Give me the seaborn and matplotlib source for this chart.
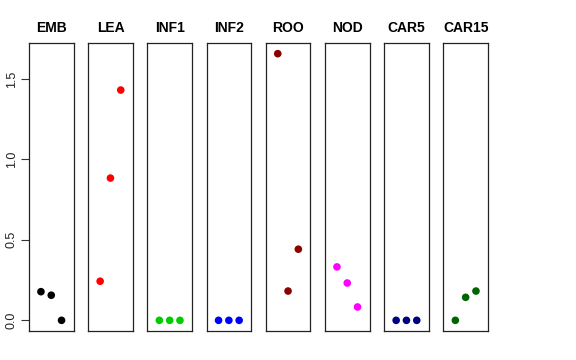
import matplotlib
matplotlib.use("Agg")
import matplotlib.pyplot as plt
import seaborn as sns
import pandas as pd

tissues = ["EMB", "LEA", "INF1", "INF2", "ROO", "NOD", "CAR5", "CAR15"]
values = {
    "EMB": [0.178, 0.156, 0.0],
    "LEA": [0.243, 0.884, 1.431],
    "INF1": [0.0, 0.0, 0.0],
    "INF2": [0.0, 0.0, 0.0],
    "ROO": [1.657, 0.182, 0.442],
    "NOD": [0.332, 0.232, 0.083],
    "CAR5": [0.0, 0.0, 0.0],
    "CAR15": [0.0, 0.143, 0.182],
}
replicates = [1, 2, 3]
colors = ["#000000", "#FF0000", "#00CD00", "#0000FF", "#8B0000", "#FF00FF", "#000080", "#006400"]
yticks = [0.0, 0.5, 1.0, 1.5]
yticklabels = ["0.0", "0.5", "1.0", "1.5"]

sns.set_style("white")
plt.rcParams["font.family"] = ["Liberation Sans", "DejaVu Sans"]
plt.rcParams["text.color"] = "black"
plt.rcParams["axes.labelcolor"] = "black"

fig = plt.figure(figsize=(5.76, 3.6), dpi=100)
W, H = 576.0, 360.0
lefts = [29 + i * 59.2 for i in range(8)]
pw, top, bot = 44.5, 43.0, 331.0

ymax = max(max(v) for v in values.values())
ext = 0.04 * ymax
for i, t in enumerate(tissues):
    ax = fig.add_axes([lefts[i] / W, 1 - bot / H, pw / W, (bot - top) / H])
    df = pd.DataFrame({"x": replicates, "y": values[t]})
    sns.scatterplot(data=df, x="x", y="y", ax=ax, color=colors[i], s=30,
                    edgecolor="none", linewidth=0)
    ax.set_xlim(-0.16, 4.16)
    ax.set_ylim(-ext, ymax + ext)
    ax.set_xticks([])
    ax.set_xlabel("")
    ax.set_ylabel("")
    for sp in ax.spines.values():
        sp.set_visible(True)
        sp.set_color("#222222")
        sp.set_linewidth(0.9)
    ax.set_title(t, fontsize=10, fontweight="bold", pad=8, color="black")
    if i == 0:
        ax.set_yticks(yticks)
        ax.set_yticklabels(yticklabels)
        ax.tick_params(axis="y", left=True, length=5.5, width=0.8, color="#333333",
                       pad=2.5, labelrotation=90, labelsize=9, labelcolor="#222222")
        for lab in ax.get_yticklabels():
            lab.set_verticalalignment("center")
    else:
        ax.set_yticks([])

fig.savefig("out.png", dpi=100)
